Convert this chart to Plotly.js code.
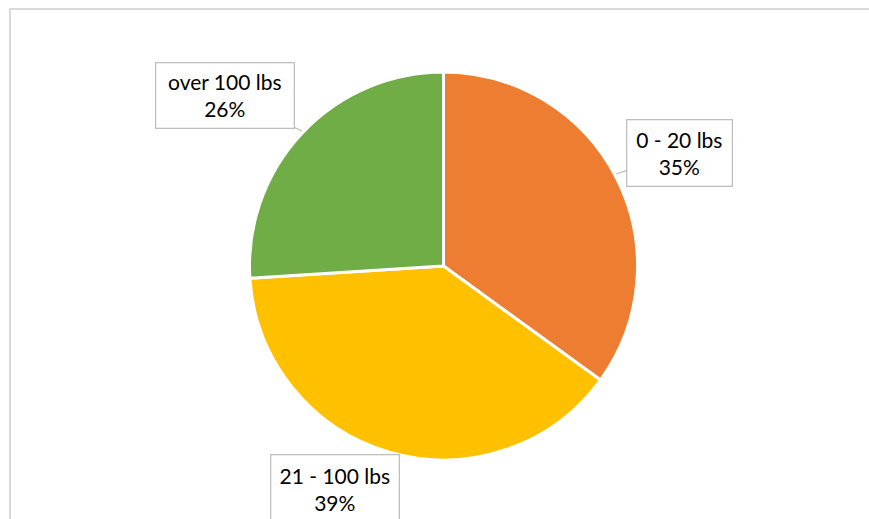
<!DOCTYPE html>
<html>
<head>
<meta charset="utf-8">
<script src="https://cdn.plot.ly/plotly-3.0.1.min.js"></script>
<style>html,body{margin:0;padding:0;background:#fff;}#chart{width:869px;height:519px;}</style>
</head>
<body>
<div id="chart"></div>
<script>
const categories = ["0 - 20 lbs", "21 - 100 lbs", "over 100 lbs"];
const shares = [35, 39, 26];
const colors = ["#ED7D31", "#FFC000", "#70AD47"];

const W = 869, H = 519;
const px = v => v / W;
const py = v => 1 - v / H;

const font = {family: "Lato, 'Liberation Sans', sans-serif", size: 21, color: "#000"};

// callout placement (pixels): box centre, box size, pointer tip
const callouts = [
  {cx: 679, cy: 153, w: 104, h: 65, tip: [616, 174]},
  {cx: 335, cy: 489, w: 127, h: 68, tip: null},
  {cx: 225, cy: 95, w: 137, h: 64, tip: [302, 131]}
];

const annotations = categories.map((c, i) => {
  const co = callouts[i];
  const a = {
    text: c + "<br>" + shares[i] + "%",
    xref: "paper", yref: "paper",
    font: font,
    bgcolor: "#fff",
    bordercolor: "#BFBFBF",
    borderwidth: 1.3,
    borderpad: 0,
    width: co.w, height: co.h,
    align: "center", valign: "middle",
    xanchor: "center", yanchor: "middle"
  };
  if (co.tip) {
    a.x = px(co.tip[0]); a.y = py(co.tip[1]);
    a.showarrow = true; a.arrowhead = 0; a.arrowwidth = 1.3; a.arrowcolor = "#BFBFBF";
    a.ax = co.cx - co.tip[0]; a.ay = co.cy - co.tip[1];
  } else {
    a.x = px(co.cx); a.y = py(co.cy);
    a.showarrow = false;
  }
  return a;
});

const data = [{
  type: "pie",
  labels: categories,
  values: shares,
  sort: false,
  direction: "clockwise",
  rotation: 0,
  textinfo: "none",
  hoverinfo: "label+percent",
  marker: {colors: colors, line: {color: "#fff", width: 3}},
  domain: {x: [px(249), px(638)], y: [py(460), py(72)]},
  showlegend: false
}];

const layout = {
  width: W, height: H,
  margin: {l: 0, r: 0, t: 0, b: 0},
  paper_bgcolor: "#fff",
  showlegend: false,
  annotations: annotations,
  shapes: [
    {type: "line", xref: "paper", yref: "paper", x0: px(9.5), x1: 1.01, y0: py(9), y1: py(9), line: {color: "#D9D9D9", width: 2}},
    {type: "line", xref: "paper", yref: "paper", x0: px(10), x1: px(10), y0: py(9), y1: -0.01, line: {color: "#D9D9D9", width: 2}}
  ]
};

Plotly.newPlot("chart", data, layout, {displayModeBar: false, staticPlot: true});
</script>
</body>
</html>
